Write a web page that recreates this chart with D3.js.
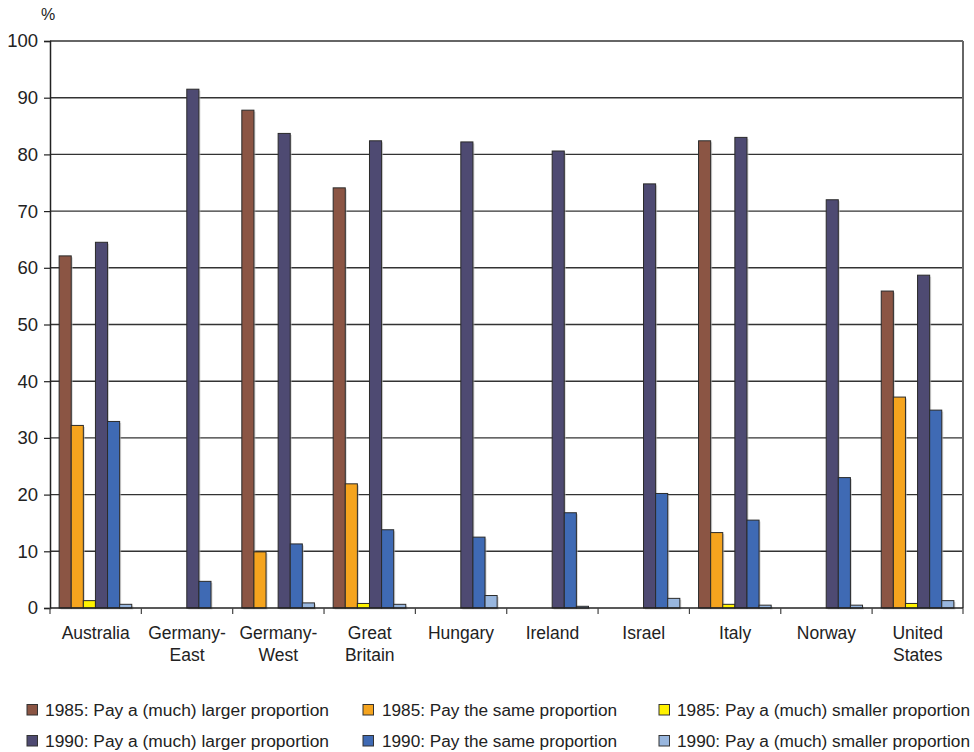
<!DOCTYPE html>
<html>
<head>
<meta charset="utf-8">
<script src="https://cdn.jsdelivr.net/npm/d3@7"></script>
<style>
  html, body { margin: 0; padding: 0; background: #fff; }
  svg text { font-family: "Liberation Sans", Arial, sans-serif; fill: #222; }
</style>
</head>
<body>
<svg id="chart" width="974" height="752"></svg>
<script>
// ---- data ----
const categories = ["Australia", "Germany-\nEast", "Germany-\nWest", "Great\nBritain", "Hungary", "Ireland", "Israel", "Italy", "Norway", "United\nStates"];
const seriesNames = [
  "1985: Pay a (much) larger proportion",
  "1985: Pay the same proportion",
  "1985: Pay a (much) smaller proportion",
  "1990: Pay a (much) larger proportion",
  "1990: Pay the same proportion",
  "1990: Pay a (much) smaller proportion"
];
const larger1985  = [62.1, null, 87.8, 74.1, null, null, null, 82.4, null, 55.9];
const same1985    = [32.2, null,  9.9, 21.9, null, null, null, 13.3, null, 37.2];
const smaller1985 = [ 1.3, null, null,  0.8, null, null, null, 0.65, null,  0.8];
const larger1990  = [64.5, 91.5, 83.7, 82.4, 82.2, 80.6, 74.8, 83.0, 72.0, 58.7];
const same1990    = [32.9,  4.7, 11.3, 13.8, 12.5, 16.8, 20.2, 15.5, 23.0, 34.9];
const smaller1990 = [0.65, null,  0.9, 0.65,  2.2,  0.3,  1.7,  0.5,  0.5,  1.3];
const seriesValues = [larger1985, same1985, smaller1985, larger1990, same1990, smaller1990];
const colors = ["#8B5544", "#F5A41E", "#FFF200", "#4E4A72", "#3F6AB4", "#98B6DE"];
const yTicks = [0, 10, 20, 30, 40, 50, 60, 70, 80, 90, 100];

// ---- layout ----
const svg = d3.select("#chart");
const pLeft = 50, pRight = 963, pTop = 41, pBottom = 608;

const x0 = d3.scaleBand().domain(categories).range([pLeft, pRight]).paddingInner(0.205).paddingOuter(0.1);
const x1 = d3.scaleBand().domain(d3.range(seriesNames.length)).range([0, x0.bandwidth()]);
const y = d3.scaleLinear().domain([0, 100]).range([pBottom, pTop]);

// gridlines
svg.append("g").selectAll("line").data(yTicks.filter(d => d > 0)).join("line")
  .attr("x1", pLeft).attr("x2", pRight)
  .attr("y1", d => y(d)).attr("y2", d => y(d))
  .attr("stroke", "#333").attr("stroke-width", 1.4);

// right border
svg.append("line").attr("x1", pRight).attr("x2", pRight).attr("y1", pTop).attr("y2", pBottom)
  .attr("stroke", "#666").attr("stroke-width", 2);

// bars
const flat = [];
categories.forEach((c, i) => seriesValues.forEach((vals, s) => {
  if (vals[i] != null) flat.push({ c, s, v: vals[i] });
}));
const barG = svg.append("g");
barG.selectAll("rect.sh").data(flat).join("rect").attr("class", "sh")
  .attr("x", d => x0(d.c) + x1(d.s) + 1.5)
  .attr("y", d => y(d.v) + 1.5)
  .attr("width", x1.bandwidth())
  .attr("height", d => pBottom - y(d.v))
  .attr("fill", "#bbb").attr("opacity", 0.6);
barG.selectAll("rect.b").data(flat).join("rect").attr("class", "b")
  .attr("x", d => x0(d.c) + x1(d.s))
  .attr("y", d => y(d.v))
  .attr("width", x1.bandwidth())
  .attr("height", d => pBottom - y(d.v))
  .attr("fill", d => colors[d.s])
  .attr("stroke", "#2a2a2a").attr("stroke-width", 1);

// y axis
const yAxis = svg.append("g").attr("transform", `translate(${pLeft},0)`)
  .call(d3.axisLeft(y).tickValues(yTicks).tickSize(6).tickFormat(d3.format("d")));
yAxis.select(".domain").attr("stroke", "#222").attr("stroke-width", 1.5);
yAxis.selectAll(".tick line").attr("stroke", "#222").attr("stroke-width", 1.2);
yAxis.selectAll(".tick text").attr("font-size", 18.5).attr("x", -12).attr("fill", "#222")
  .style("font-family", "'Liberation Sans', Arial, sans-serif");

// x axis baseline and ticks at band boundaries
svg.append("line").attr("x1", pLeft).attr("x2", pRight).attr("y1", pBottom).attr("y2", pBottom)
  .attr("stroke", "#222").attr("stroke-width", 1.5);
const boundaries = categories.map((c, i) => pLeft + i * x0.step()).concat([pRight]);
svg.append("g").selectAll("line").data(boundaries).join("line")
  .attr("x1", d => d).attr("x2", d => d).attr("y1", pBottom).attr("y2", pBottom + 6)
  .attr("stroke", "#444").attr("stroke-width", 1.2);

// x labels
const xl = svg.append("g").selectAll("text").data(categories).join("text")
  .attr("text-anchor", "middle").attr("font-size", 17.5)
  .attr("transform", (d, i) => `translate(${pLeft + (i + 0.5) * x0.step()},639)`);
xl.each(function(d) {
  const lines = d.split("\n");
  d3.select(this).selectAll("tspan").data(lines).join("tspan")
    .attr("x", 0).attr("dy", (l, k) => k === 0 ? 0 : 22).text(l => l);
});

// % unit label
svg.append("text").attr("x", 48).attr("y", 20).attr("text-anchor", "middle")
  .attr("font-size", 16).text("%");

// legend
const legCols = [{ sx: 27, tx: 45, tw: 284 }, { sx: 363, tx: 382, tw: 235 }, { sx: 659, tx: 677, tw: 293 }];
const legRows = [710, 741];
const leg = svg.append("g");
seriesNames.forEach((name, s) => {
  const col = legCols[s % 3], row = legRows[Math.floor(s / 3)];
  leg.append("rect").attr("x", col.sx).attr("y", row - 5.5).attr("width", 10.5).attr("height", 10.5)
    .attr("fill", colors[s]).attr("stroke", "#333").attr("stroke-width", 1);
  leg.append("text").attr("x", col.tx).attr("y", row + 5.5).attr("font-size", 16)
    .attr("textLength", col.tw).attr("lengthAdjust", "spacingAndGlyphs").text(name);
});
</script>
</body>
</html>
